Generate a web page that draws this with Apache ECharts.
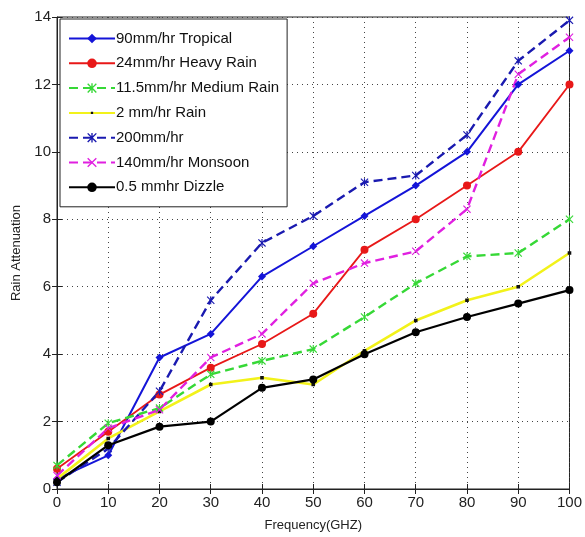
<!DOCTYPE html>
<html>
<head>
<meta charset="utf-8">
<script src="https://cdn.jsdelivr.net/npm/echarts@6/dist/echarts.min.js"></script>
<style>
    html, body { margin: 0; padding: 0; background: #fff; }
    #chart { width: 585px; height: 537px; }
</style>
</head>
<body>
<div id="chart"></div>
<script>
// frequency (GHz)
var freq = [0, 10, 20, 30, 40, 50, 60, 70, 80, 90, 100];

var tropical90 = [0.3, 1.0, 3.9, 4.6, 6.3, 7.2, 8.1, 9.0, 10.0, 12.0, 13.0];
var heavy24 = [0.6, 1.7, 2.8, 3.6, 4.3, 5.2, 7.1, 8.0, 9.0, 10.0, 12.0];
var medium115 = [0.7, 1.95, 2.4, 3.4, 3.8, 4.15, 5.1, 6.1, 6.9, 7.0, 8.0];
var rain2 = [0.3, 1.5, 2.3, 3.1, 3.3, 3.1, 4.1, 5.0, 5.6, 6.0, 7.0];
var mm200 = [0.2, 1.2, 2.9, 5.6, 7.3, 8.1, 9.1, 9.3, 10.5, 12.7, 13.9];
var monsoon140 = [0.4, 1.8, 2.35, 3.9, 4.6, 6.1, 6.7, 7.05, 8.3, 12.3, 13.4];
var drizzle05 = [0.2, 1.3, 1.85, 2.0, 3.0, 3.25, 4.0, 4.65, 5.1, 5.5, 5.9];

var legendNames = ['90mm/hr Tropical', '24mm/hr Heavy Rain', '11.5mm/hr Medium Rain',
                   '2 mm/hr Rain', '200mm/hr', '140mm/hr Monsoon', '0.5 mmhr Dizzle'];

var xMark = 'path://M1,0 L5,4 L9,0 L10,1 L6,5 L10,9 L9,10 L5,6 L1,10 L0,9 L4,5 L0,1 Z';
var starMark = 'path://M1,0 L5,4 L9,0 L10,1 L6,5 L10,9 L9,10 L5,6 L1,10 L0,9 L4,5 L0,1 Z M4.3,0 L5.7,0 L5.7,10 L4.3,10 Z';
// small square in the middle of a bigger box, so the legend icon stays small
var dotMark = 'path://M0,0 L0.05,0 L0.05,0.05 Z M3.8,3.8 L6.2,3.8 L6.2,6.2 L3.8,6.2 Z M9.95,9.95 L10,9.95 L10,10 Z';

function pairs(vals) {
    return freq.map(function(f, i) { return [f, vals[i]]; });
}

function line(name, vals, color, dash, symbol, size, width, markColor) {
    return {
        name: name,
        type: 'line',
        data: pairs(vals),
        symbol: symbol,
        symbolSize: size,
        showSymbol: true,
        color: color,
        lineStyle: { color: color, width: width || 2, type: dash ? [9, 5] : 'solid' },
        itemStyle: { color: markColor || color },
        animation: false
    };
}

var font = '"Liberation Sans Narrow", "Liberation Sans", Arial, sans-serif';

var chart = echarts.init(document.getElementById('chart'));
chart.setOption({
    backgroundColor: '#fff',
    textStyle: { fontFamily: font },
    grid: {
        left: 57, right: 9, top: 17, bottom: 48,
        show: true, borderColor: '#222', borderWidth: 1
    },
    legend: {
        orient: 'vertical',
        left: 60, top: 19,
        padding: [12, 8, 12, 8],
        itemGap: 9.8,
        itemWidth: 46,
        itemHeight: 12,
        backgroundColor: '#fff',
        borderColor: '#222',
        borderWidth: 1,
        textStyle: { fontSize: 15, color: '#111', fontFamily: font, padding: [0, 0, 0, -4] },
        data: legendNames
    },
    xAxis: [{
        type: 'value', min: 0, max: 100, interval: 10,
        name: 'Frequency(GHZ)', nameLocation: 'middle', nameGap: 30,
        nameTextStyle: { fontSize: 13, color: '#222', fontFamily: font },
        axisLine: { lineStyle: { color: '#222' } },
        axisTick: { inside: true, length: 5, lineStyle: { color: '#222' } },
        axisLabel: { fontSize: 15, color: '#222', margin: 6 },
        splitLine: { show: true, lineStyle: { color: '#444', type: [1, 4] } }
    }, {
        type: 'value', min: 0, max: 100, interval: 10, position: 'top',
        axisLine: { show: false },
        axisTick: { inside: true, length: 5, lineStyle: { color: '#222' } },
        axisLabel: { show: false },
        splitLine: { show: false }
    }],
    yAxis: [{
        type: 'value', min: 0, max: 14, interval: 2,
        name: 'Rain Attenuation', nameLocation: 'middle', nameGap: 33,
        nameTextStyle: { fontSize: 13, color: '#222', fontFamily: font },
        axisLine: { show: true, lineStyle: { color: '#222' } },
        axisTick: { show: true, inside: true, length: 5, lineStyle: { color: '#222' } },
        axisLabel: { fontSize: 15, color: '#222', margin: 6 },
        splitLine: { show: true, lineStyle: { color: '#444', type: [1, 4] } }
    }, {
        type: 'value', min: 0, max: 14, interval: 2, position: 'right',
        axisLine: { show: false },
        axisTick: { show: true, inside: true, length: 5, lineStyle: { color: '#222' } },
        axisLabel: { show: false },
        splitLine: { show: false }
    }],
    series: [
        line('90mm/hr Tropical', tropical90, '#1414d8', false, 'diamond', 8, 2),
        line('24mm/hr Heavy Rain', heavy24, '#e81818', false, 'circle', 8, 1.8),
        line('11.5mm/hr Medium Rain', medium115, '#36d836', true, starMark, 8, 2.4),
        line('2 mm/hr Rain', rain2, '#f2f21a', false, dotMark, 15, 2.6, '#111'),
        line('200mm/hr', mm200, '#1a1ab0', true, starMark, 8, 2.4),
        line('140mm/hr Monsoon', monsoon140, '#e020e0', true, xMark, 8, 2.4),
        line('0.5 mmhr Dizzle', drizzle05, '#000000', false, 'circle', 8, 2.2)
    ]
});
</script>
</body>
</html>
